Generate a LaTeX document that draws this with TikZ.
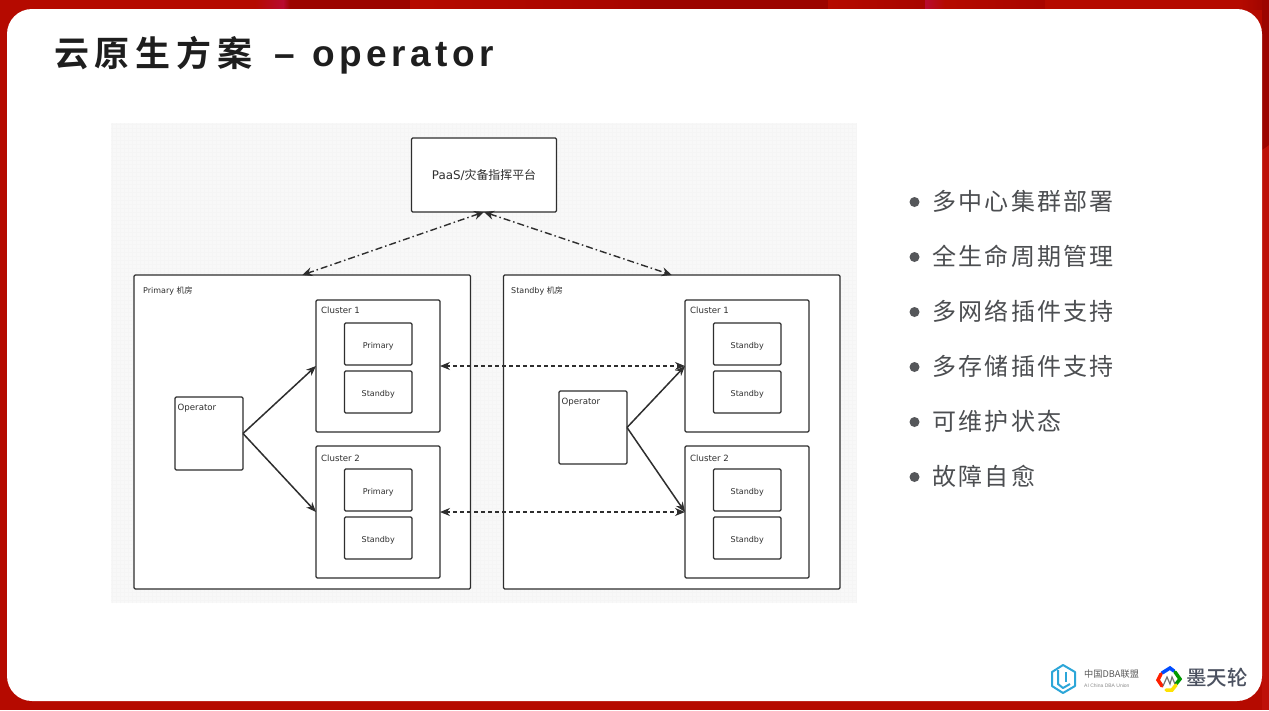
\documentclass[tikz,border=0pt]{standalone}
\usepackage{fontspec}
\usetikzlibrary{arrows.meta,calc}
\setmainfont{Liberation Sans}
\newfontfamily\cjk{Noto Sans CJK SC}
\newfontfamily\cjkmed{Noto Sans CJK SC Medium}
\newfontfamily\diag{DejaVu Sans}
\newfontfamily\titlecjk[LetterSpace=16.5]{Noto Sans CJK SC Bold}
\newfontfamily\titlelat[LetterSpace=12]{Liberation Sans Bold}
\newfontfamily\listcjk[LetterSpace=9.5]{Noto Sans CJK SC}
\definecolor{redbase}{HTML}{B50A00}
\definecolor{redside}{HTML}{BE1008}
\definecolor{reddark}{HTML}{9C0400}
\definecolor{redmid}{HTML}{A80500}
\definecolor{redpink}{HTML}{B80A30}
\definecolor{panel}{HTML}{F8F8F8}
\definecolor{gridc}{HTML}{F5F5F5}
\definecolor{ink}{HTML}{2E2E2E}
\definecolor{bul}{HTML}{55575A}
\definecolor{titlec}{HTML}{1E1E1E}
\definecolor{dbablue}{HTML}{2CA6D8}
\definecolor{motext}{HTML}{4B5160}
\tikzset{
  box/.style={draw=ink,line width=1.3pt,fill=white,rounded corners=1.2pt,inner sep=0pt,outer sep=0pt,font=\diag\fontsize{8.6}{10}\selectfont,text=ink},
  lbl/.style={anchor=west,inner sep=0pt,font=\diag\fontsize{8.6}{10}\selectfont,text=ink},
  solidarrow/.style={draw=ink,line width=1.5pt,-{Stealth[length=10pt,width=8pt]}},
  dasharrow/.style={draw=ink,line width=1.2pt,dash pattern=on 4pt off 3pt,{Stealth[length=10pt,width=8pt]}-{Stealth[length=10pt,width=8pt]}},
  dotdash/.style={draw=ink,line width=1.4pt,dash pattern=on 7pt off 3pt on 1.5pt off 3pt,{Stealth[length=10pt,width=9pt]}-{Stealth[length=10pt,width=9pt]}},
  listitem/.style={anchor=west,inner sep=0pt,font=\listcjk\fontsize{24}{26}\selectfont,text=bul!90!black},
  bulletdot/.style={circle,fill=bul,minimum size=10pt,inner sep=0pt}
}
\newcommand{\intext}[1]{\raisebox{-3pt}[5pt][3pt]{\fontsize{8}{10}\selectfont #1}}
\begin{document}
\begin{tikzpicture}[x=1pt,y=-1pt]
\useasboundingbox (0,0) rectangle (1269,710);
% background
\fill[redbase] (0,0) rectangle (1269,710);
\fill[redside] (1262,0) rectangle (1269,710);
\shade[left color=redbase,right color=redpink] (255,0) rectangle (283,9);
\fill[reddark] (290,0) rectangle (410,9);
\shade[left color=redpink,right color=reddark] (283,0) rectangle (290,9);
\shade[left color=redbase,right color=redmid] (410,0) rectangle (640,9);
\fill[reddark] (640,0) rectangle (828,9);
\shade[left color=redbase,right color=redmid] (828,0) rectangle (925,9);
\shade[left color=redpink,right color=redbase] (925,0) rectangle (945,9);
\shade[left color=redbase,right color=redmid] (945,0) rectangle (1045,9);
\shade[left color=redbase,right color=redbase] (1045,0) rectangle (1240,9);
\shade[left color=redbase,right color=reddark] (1240,0) rectangle (1269,9);
\fill[reddark] (1262,0) -- (1269,0) -- (1269,145) -- (1262,150) -- cycle;
\fill[white,rounded corners=25pt] (7,9) rectangle (1262,701);
% title
\node (title) [anchor=west,inner sep=0pt,text=titlec,font=\fontsize{35}{38}\selectfont] at (54,55) {\titlecjk 云原生方案\hspace{22.5pt}\titlelat\fontsize{37}{38}\selectfont –\hspace{17.5pt}operator};
% panel
\fill[panel] (111,123) rectangle (856,603);
\draw[gridc,line width=.3pt,step=4pt] (111,123) grid (856,603);
% diagram boxes
\node (paas) [box,minimum width=145pt,minimum height=74pt] at (484,175) {\fontsize{11.9}{13}\selectfont\diag PaaS/\cjk 灾备指挥平台};
\node (prim) [box,minimum width=336.5pt,minimum height=314pt] at (302.25,432) {};
\node (stby) [box,minimum width=336.5pt,minimum height=314pt] at (671.75,432) {};
\node (primlbl) [lbl] at (143,290.5) {\fontsize{8}{10}\selectfont Primary \cjk 机房};
\node (stbylbl) [lbl] at (511,290.5) {\fontsize{8}{10}\selectfont Standby \cjk 机房};
% left clusters
\node (c1) [box,minimum width=124pt,minimum height=132pt] at (378,366) {};
\node (c2) [box,minimum width=124pt,minimum height=132pt] at (378,512) {};
\node (c1lbl) [lbl] at (321,310.5) {Cluster 1};
\node (c2lbl) [lbl] at (321,458.5) {Cluster 2};
\node (c1a) [box,minimum width=67.5pt,minimum height=42pt] at (378.25,344) {\intext{Primary}};
\node (c1b) [box,minimum width=67.5pt,minimum height=42pt] at (378.25,392) {\intext{Standby}};
\node (c2a) [box,minimum width=67.5pt,minimum height=42pt] at (378.25,490) {\intext{Primary}};
\node (c2b) [box,minimum width=67.5pt,minimum height=42pt] at (378.25,538) {\intext{Standby}};
% right clusters
\node (r1) [box,minimum width=124pt,minimum height=132pt] at (747,366) {};
\node (r2) [box,minimum width=124pt,minimum height=132pt] at (747,512) {};
\node (r1lbl) [lbl] at (690,310.5) {Cluster 1};
\node (r2lbl) [lbl] at (690,458.5) {Cluster 2};
\node (r1a) [box,minimum width=67.5pt,minimum height=42pt] at (747.25,344) {\intext{Standby}};
\node (r1b) [box,minimum width=67.5pt,minimum height=42pt] at (747.25,392) {\intext{Standby}};
\node (r2a) [box,minimum width=67.5pt,minimum height=42pt] at (747.25,490) {\intext{Standby}};
\node (r2b) [box,minimum width=67.5pt,minimum height=42pt] at (747.25,538) {\intext{Standby}};
% operators
\node (opl) [box,minimum width=68pt,minimum height=73pt] at (209,433.5) {};
\node (opr) [box,minimum width=68pt,minimum height=73pt] at (593,427.5) {};
\node (opllbl) [lbl] at (177.5,408) {Operator};
\node (oprlbl) [lbl] at (561.5,402) {Operator};
% connectors
\draw[solidarrow] (opl.east) -- (c1.west);
\draw[solidarrow] (opl.east) -- (c2.west);
\draw[solidarrow] (opr.east) -- (r1.west);
\draw[solidarrow] (opr.east) -- (r2.west);
\draw[dasharrow] (c1.east) -- (r1.west);
\draw[dasharrow] (c2.east) -- (r2.west);
\draw[dotdash] (paas.south) -- (prim.north);
\draw[dotdash] (paas.south) -- (stby.north);
% bullets
\foreach \n/\yy/\t in {a/201/多中心集群部署,b/256/全生命周期管理,c/311/多网络插件支持,d/366/多存储插件支持,e/421/可维护状态,f/476/故障自愈}{
  \node (dot\n) [bulletdot] at (914.5,\yy+1) {};
  \node (item\n) [listitem] at (932,\yy) {\t};
}
% DBA logo
\draw[dbablue,line width=2pt,line join=round] (1063,665) -- (1075,672) -- (1075,686) -- (1063,693) -- (1052,686) -- (1052,672) -- cycle;
\draw[dbablue,line width=2pt,line join=round] (1058,670) -- (1058,684) -- (1063,688) -- (1070,684);
\draw[dbablue,line width=2pt] (1066,672) -- (1066,682);
\node (dbacn) [anchor=west,inner sep=0pt,text=black!65,font=\cjk\fontsize{9.2}{11}\selectfont] at (1084,674.5) {中国DBA联盟};
\node (dbaen) [anchor=west,inner sep=0pt,text=black!45,font=\fontsize{5}{6}\selectfont] at (1084,686) {AI China DBA Union};
% Motianlun logo
\draw[blue!70!cyan,line width=3.5pt,line cap=round] (1162,673) -- (1170,668) -- (1174,671);
\draw[green!60!black,line width=3.5pt,line cap=round] (1175,672) -- (1180,679) -- (1176,684);
\draw[yellow!85!orange,line width=3.5pt,line cap=round] (1176,685) -- (1172,690) -- (1166,690);
\draw[red!75!orange,line width=3.5pt,line cap=round] (1161,674) -- (1158,680) -- (1162,686);
\draw[black!55,line width=1.2pt] (1163,686) -- (1167,677) -- (1170,684) -- (1172,677) -- (1175,684);
\node (motl) [anchor=west,inner sep=0pt,text=motext,font=\cjkmed\fontsize{20.5}{22}\selectfont] at (1186,678) {墨天轮};
\end{tikzpicture}
\end{document}
